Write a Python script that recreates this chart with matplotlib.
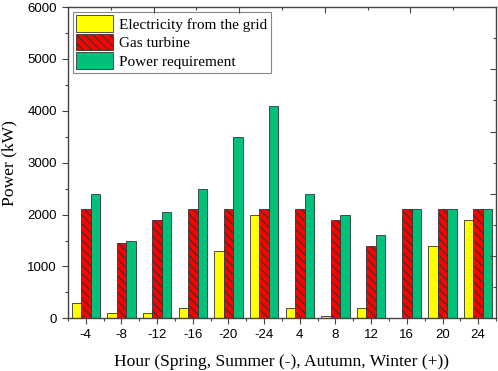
import matplotlib
matplotlib.use("Agg")
import matplotlib.pyplot as plt
import numpy as np

categories = ["-4", "-8", "-12", "-16", "-20", "-24", "4", "8", "12", "16", "20", "24"]
grid = [300, 100, 100, 200, 1300, 2000, 200, 50, 200, 0, 1400, 1900]
gas = [2100, 1450, 1900, 2100, 2100, 2100, 2100, 1900, 1400, 2100, 2100, 2100]
demand = [2400, 1500, 2050, 2500, 3500, 4100, 2400, 2000, 1600, 2100, 2100, 2100]
labels = ["Electricity from the grid", "Gas turbine", "Power requirement"]

plt.rcParams['hatch.linewidth'] = 0.8
fig = plt.figure(figsize=(4.98, 3.71), dpi=100)
ax = fig.add_axes([0.1365, 0.142, 0.8595, 0.839])

x = np.arange(len(categories))
w = 0.265
ec = "#333333"
ax.bar(x - w, grid, w, color="#FFFF00", edgecolor=ec, linewidth=0.6, label=labels[0])
ax.bar(x, gas, w, color="#FF0000", edgecolor=ec, linewidth=0.6, hatch="\\\\\\\\", label=labels[1])
ax.bar(x + w, demand, w, color="#00C07A", edgecolor=ec, linewidth=0.6, label=labels[2])

ax.set_xlim(-0.5, len(categories) - 0.5)
ax.set_ylim(0, 6000)
ax.set_xticks(x)
ax.set_xticklabels(categories)
ax.set_xticks(np.arange(-0.5, len(categories)), minor=True)
ax.set_yticks(np.arange(0, 6001, 1000))
ax.set_yticks(np.arange(500, 6000, 1000), minor=True)

for s in ax.spines.values():
    s.set_color("#444444")
    s.set_linewidth(1.0)

ax.tick_params(axis='both', which='major', direction='out', length=4, width=0.8,
               labelsize=9.5, color="#444444", pad=4)
ax.tick_params(axis='both', which='minor', direction='out', length=2.5, width=0.8, color="#444444")
for t in ax.get_xticklabels() + ax.get_yticklabels():
    t.set_fontfamily("Liberation Sans")

# top and right inward ticks (10 divisions)
axt = ax.twiny()
axt.set_xlim(0, 10)
axt.set_xticks([2, 4, 6, 8])
axt.set_xticks([1, 3, 5, 7, 9], minor=True)
axt.tick_params(axis='x', which='major', direction='in', length=4, width=0.8, labeltop=False, color="#444444")
axt.tick_params(axis='x', which='minor', direction='in', length=2.5, width=0.8, color="#444444")
axr = ax.twinx()
axr.set_ylim(0, 10)
axr.set_yticks([2, 4, 6, 8])
axr.set_yticks([1, 3, 5, 7, 9], minor=True)
axr.tick_params(axis='y', which='major', direction='in', length=4, width=0.8, labelright=False, color="#444444")
axr.tick_params(axis='y', which='minor', direction='in', length=2.5, width=0.8, color="#444444")
for a in (axt, axr):
    for s in a.spines.values():
        s.set_visible(False)

ax.set_xlabel("Hour (Spring, Summer (-), Autumn, Winter (+))", fontfamily="Liberation Serif", fontsize=12.6, labelpad=9)
ax.set_ylabel("Power (kW)", fontfamily="Liberation Serif", fontsize=12.6, labelpad=7)

leg = ax.legend(loc="upper left", prop={"family": "Liberation Serif", "size": 11},
                fancybox=False, framealpha=1, edgecolor="#888888",
                handlelength=2.4, handleheight=1.25, borderaxespad=0.3,
                labelspacing=0.15, handletextpad=0.4, borderpad=0.25)
leg.get_frame().set_linewidth(0.8)

fig.savefig("out.png", dpi=100)
